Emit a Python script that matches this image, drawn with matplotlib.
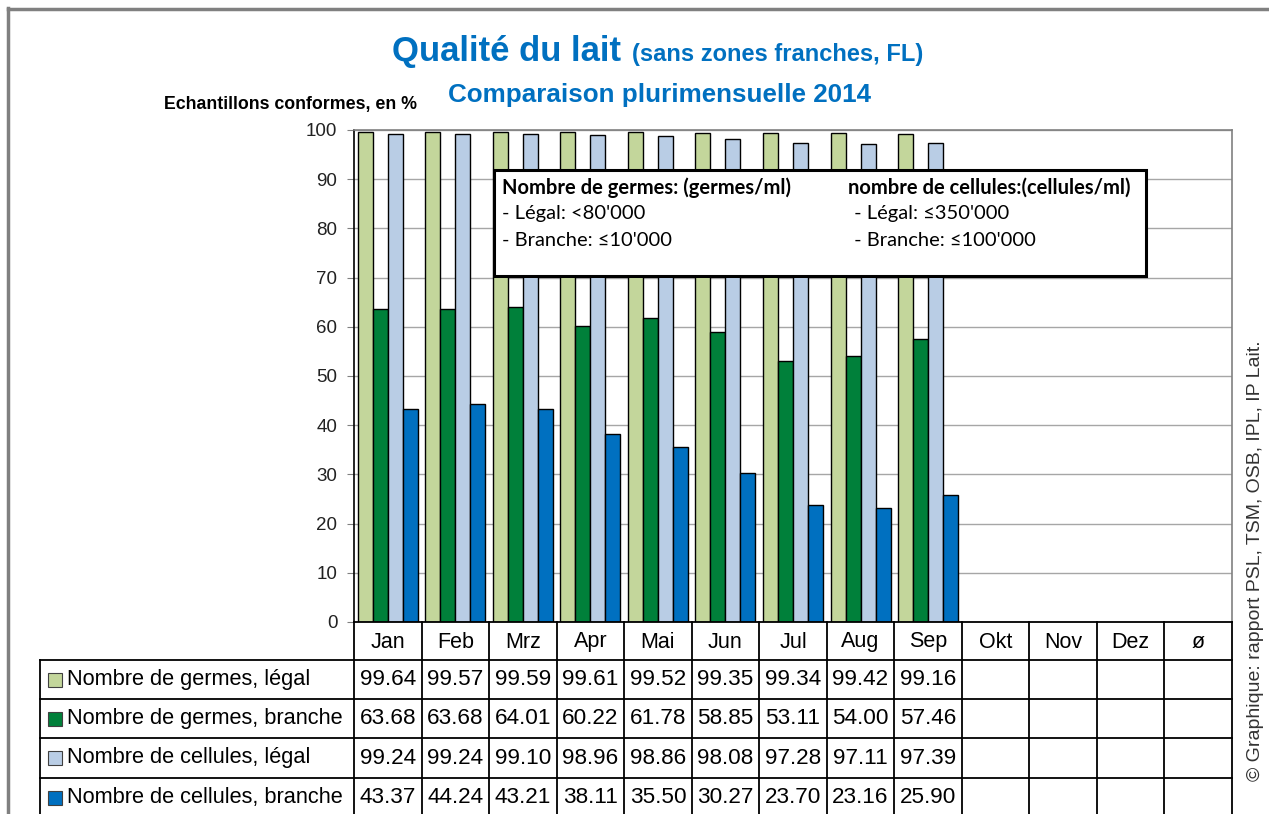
import matplotlib
matplotlib.use("Agg")
import matplotlib.pyplot as plt
import matplotlib.transforms as mtransforms
from matplotlib.patches import Rectangle
from matplotlib.lines import Line2D
import numpy as np

# ---------------- data ----------------
months = ["Jan", "Feb", "Mrz", "Apr", "Mai", "Jun", "Jul", "Aug", "Sep", "Okt", "Nov", "Dez", "ø"]
germes_legal = [99.64, 99.57, 99.59, 99.61, 99.52, 99.35, 99.34, 99.42, 99.16]
germes_branche = [63.68, 63.68, 64.01, 60.22, 61.78, 58.85, 53.11, 54.00, 57.46]
cellules_legal = [99.24, 99.24, 99.10, 98.96, 98.86, 98.08, 97.28, 97.11, 97.39]
cellules_branche = [43.37, 44.24, 43.21, 38.11, 35.50, 30.27, 23.70, 23.16, 25.90]
series_names = ["Nombre de germes, légal", "Nombre de germes, branche",
                "Nombre de cellules, légal", "Nombre de cellules, branche"]
series_values = [germes_legal, germes_branche, cellules_legal, cellules_branche]
y_ticks = [0, 10, 20, 30, 40, 50, 60, 70, 80, 90, 100]

colors = ["#C3D69B", "#00803A", "#B9CDE5", "#0070C0"]

W, H = 1269, 814
fig = plt.figure(figsize=(W / 100, H / 100), dpi=100)
fig.patch.set_facecolor("white")

def fx(px):
    return px / W

def fy(py):
    return 1 - py / H

SANS = ["Liberation Sans", "DejaVu Sans"]
CAL = ["Lato", "DejaVu Sans"]

# frame of the sheet
fig.add_artist(Line2D([fx(8), fx(8)], [fy(8), fy(814)], color="#808080", lw=2.5))
fig.add_artist(Line2D([fx(8), fx(1269)], [fy(9), fy(9)], color="#808080", lw=2.5))

# ---------------- main axes ----------------
L, R, T, B = 354, 1232, 130, 622
ax = fig.add_axes([fx(L), fy(B), fx(R - L), (B - T) / H])
n = len(months)
x = np.arange(n)
bw = 0.222
offsets = [-1.5 * bw, -0.5 * bw, 0.5 * bw, 1.5 * bw]
for vals, off, c in zip(series_values, offsets, colors):
    xs = x[:len(vals)] + off
    ax.bar(xs, vals, width=bw, color=c, edgecolor="black", linewidth=1.0, zorder=3)

ax.set_xlim(-0.5, n - 0.5)
ax.set_ylim(0, 100)
ax.set_yticks(y_ticks)
ax.set_yticklabels([str(t) for t in y_ticks], family=SANS, fontsize=13.5, color="#222222")
ax.tick_params(axis="y", length=5, color="#808080", pad=7)
ax.set_xticks([])
ax.yaxis.grid(True, color="#A6A6A6", lw=1.0, zorder=0)
for s in ["top", "right"]:
    ax.spines[s].set_color("#808080")
    ax.spines[s].set_linewidth(1.2)
ax.spines["left"].set_color("black")
ax.spines["left"].set_linewidth(1.2)
ax.spines["bottom"].set_visible(False)

# ---------------- annotation box ----------------
box_l, box_t, box_r, box_b = 494, 170, 1146, 276
fig.add_artist(Rectangle((fx(box_l), fy(box_b)), fx(box_r - box_l), (box_b - box_t) / H,
                         facecolor="white", edgecolor="black", lw=2.2, zorder=10))
bf = 14.5
fig.text(fx(502), fy(188), "Nombre de germes: (germes/ml)", family=CAL, weight="bold",
         fontsize=bf, va="center", ha="left", zorder=11)
fig.text(fx(502), fy(214), "- Légal: <80'000", family=CAL, fontsize=bf, va="center", zorder=11)
fig.text(fx(502), fy(241), "- Branche: ≤10'000", family=CAL, fontsize=bf, va="center", zorder=11)
fig.text(fx(848), fy(188), "nombre de cellules:(cellules/ml)", family=CAL, weight="bold",
         fontsize=bf, va="center", ha="left", zorder=11)
fig.text(fx(849), fy(214), " - Légal: ≤350'000", family=CAL, fontsize=bf, va="center", zorder=11)
fig.text(fx(849), fy(241), " - Branche: ≤100'000", family=CAL, fontsize=bf, va="center", zorder=11)

# ---------------- titles ----------------
blue = "#0070C0"
fig.text(fx(392), fy(51), "Qualité du lait", family=SANS, weight="bold", fontsize=25,
         color=blue, va="center", ha="left")
fig.text(fx(632), fy(55), "(sans zones franches, FL)", family=SANS, weight="bold", fontsize=17,
         color=blue, va="center", ha="left")
fig.text(fx(659), fy(95), "Comparaison plurimensuelle 2014", family=SANS, weight="bold",
         fontsize=18.7, color=blue, va="center", ha="center")
fig.text(fx(417), fy(104), "Echantillons conformes, en %", family=SANS, weight="bold",
         fontsize=12.8, color="black", va="center", ha="right")

fig.text(fx(1256), fy(561), "© Graphique: rapport PSL, TSM, OSB, IPL, IP Lait.", family=SANS,
         fontsize=14, color="#333333", rotation=90, va="center", ha="center")

# ---------------- data table ----------------
trans = mtransforms.blended_transform_factory(ax.transData, fig.transFigure)
row_lines = [622, 660, 699, 738, 778, 817]
tab_left = 40
lw_t = 1.3
fig.add_artist(Line2D([fx(L), fx(R)], [fy(row_lines[0])] * 2, color="black", lw=lw_t))
for yl in row_lines[1:]:
    fig.add_artist(Line2D([fx(tab_left), fx(R)], [fy(yl)] * 2, color="black", lw=lw_t))
for i in range(n + 1):
    xb = i - 0.5
    fig.add_artist(Line2D([xb, xb], [fy(row_lines[0]), fy(row_lines[-1])], color="black",
                          lw=lw_t, transform=trans))
fig.add_artist(Line2D([fx(tab_left)] * 2, [fy(row_lines[1]), fy(row_lines[-1])], color="black", lw=lw_t))

for i, m in enumerate(months):
    fig.text(i, fy((row_lines[0] + row_lines[1]) / 2 + 1), m, transform=trans, family=SANS,
             fontsize=15.5, ha="center", va="center")
for r, (name, vals, c) in enumerate(zip(series_names, series_values, colors)):
    yc = (row_lines[r + 1] + row_lines[r + 2]) / 2
    fig.add_artist(Rectangle((fx(48), fy(yc + 7)), fx(14), 14 / H, facecolor=c,
                             edgecolor="#404040", lw=0.8))
    fig.text(fx(67), fy(yc), name, family=SANS, fontsize=15.7, ha="left", va="center")
    for i, v in enumerate(vals):
        fig.text(i, fy(yc), f"{v:.2f}", transform=trans, family=SANS, fontsize=16.2,
                 ha="center", va="center")

fig.savefig("out.png", dpi=100)
